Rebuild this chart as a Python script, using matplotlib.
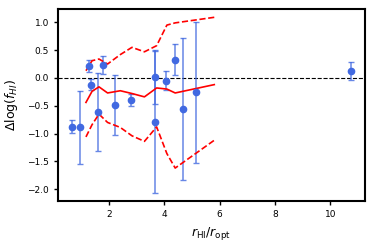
import matplotlib
matplotlib.use('Agg')
import matplotlib.pyplot as plt

# individual galaxies
r_ratio = [0.67, 0.96, 1.28, 1.36, 1.61, 1.78, 2.22, 2.82, 3.68, 3.68, 4.07, 4.41, 4.67, 5.15, 10.73]
dlog_fhi = [-0.875, -0.89, 0.21, -0.12, -0.61, 0.23, -0.48, -0.39, 0.02, -0.79, -0.05, 0.33, -0.56, -0.26, 0.13]
dlog_err = [0.12, 0.65, 0.11, 0.10, 0.70, 0.16, 0.54, 0.11, 0.48, 1.28, 0.17, 0.28, 1.27, 1.27, 0.16]

# running trend
run_x = [1.18, 1.40, 1.65, 1.96, 2.42, 2.84, 3.29, 3.73, 4.10, 4.40, 5.81]
run_mid = [-0.44, -0.24, -0.16, -0.27, -0.23, -0.28, -0.34, -0.18, -0.20, -0.27, -0.12]
run_hi = [0.13, 0.31, 0.34, 0.25, 0.42, 0.55, 0.47, 0.58, 0.95, 0.99, 1.09]
run_lo = [-1.06, -0.84, -0.65, -0.80, -0.89, -1.04, -1.14, -0.88, -1.36, -1.62, -1.12]

fig = plt.figure(figsize=(3.74, 2.49), dpi=100)
ax = fig.add_axes([0.155, 0.191, 0.821, 0.773])

ax.axhline(0, color='k', ls='--', lw=0.8)
ax.errorbar(r_ratio, dlog_fhi, yerr=dlog_err, fmt='o', color='royalblue', ms=4.5,
            elinewidth=1.1, capsize=2, capthick=1, ecolor=(0.255, 0.41, 0.88, 0.8))
ax.plot(run_x, run_mid, color='red', lw=1.2)
ax.plot(run_x, run_hi, color='red', ls='--', lw=1.2)
ax.plot(run_x, run_lo, color='red', ls='--', lw=1.2)

ax.set_xlim(0.17, 11.25)
ax.set_ylim(-2.22, 1.24)
ax.set_yticks([-2.0, -1.5, -1.0, -0.5, 0.0, 0.5, 1.0])
ax.set_xticks([2, 4, 6, 8, 10])
ax.tick_params(labelsize=6.5, width=1, length=3)
for s in ax.spines.values():
  s.set_linewidth(1.5)

ax.set_xlabel(r'$r_{\rm HI}/r_{\rm opt}$', fontsize=9)
ax.set_ylabel(r'$\Delta\log(f_{HI})$', fontsize=9, labelpad=5)

fig.savefig('out.png', dpi=100)
